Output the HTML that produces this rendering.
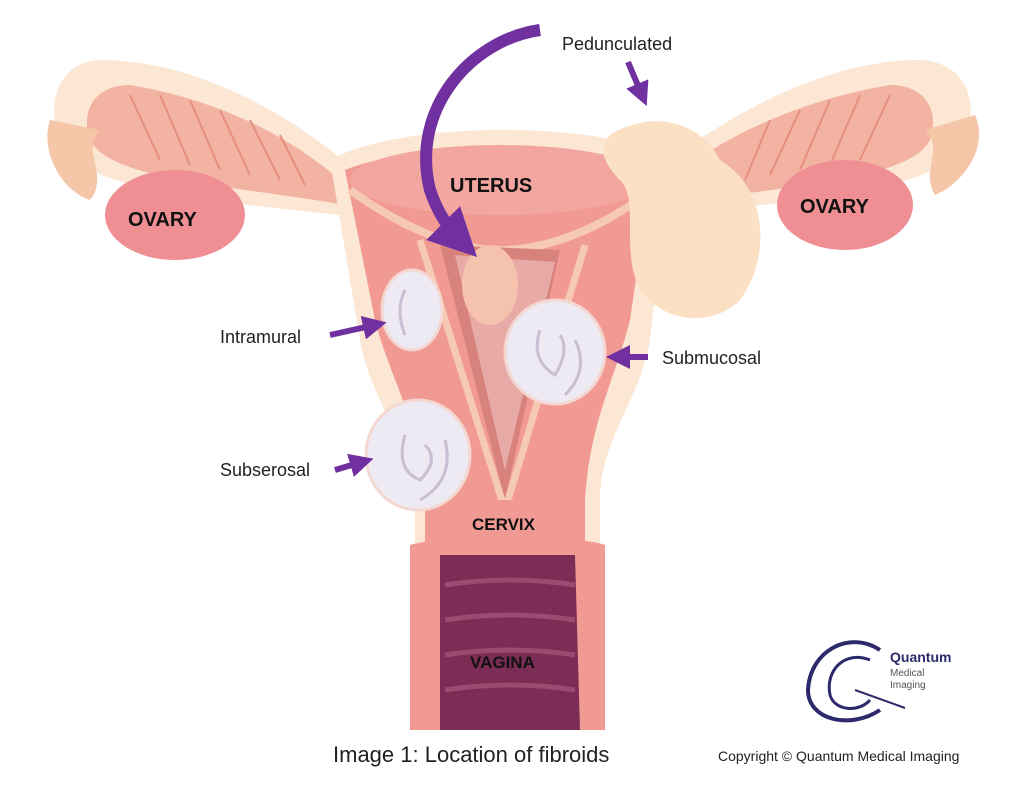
<!DOCTYPE html>
<html><head><style>
html,body{margin:0;padding:0;background:#fff;width:1024px;height:788px;overflow:hidden}
svg text{font-family:"Liberation Sans",sans-serif}
</style></head><body>
<svg width="1024" height="788" viewBox="0 0 1024 788" xmlns="http://www.w3.org/2000/svg">
<defs>
<marker id="ah" markerWidth="4" markerHeight="4" refX="2" refY="2" orient="auto"><path d="M0,0 L4,2 L0,4 z" fill="#7030a0"/></marker>
</defs>
<!-- fallopian tubes outer halo -->
<path d="M360,175 C300,120 200,60 100,60 C60,62 45,100 60,140 C80,190 200,200 340,215 Z" fill="#fbe7d4"/>
<path d="M650,175 C720,120 820,60 920,60 C965,62 980,100 965,140 C945,190 820,200 660,215 Z" fill="#fbe7d4"/>
<!-- tubes inner -->
<path d="M350,190 C300,140 220,100 130,85 C95,85 80,110 90,140 C110,180 230,185 345,205 Z" fill="#f2b3a2"/>
<path d="M660,190 C710,140 800,100 890,85 C925,85 940,110 930,140 C910,180 790,185 665,205 Z" fill="#f2b3a2"/>
<g stroke="#e58f80" stroke-width="2" fill="none">
<path d="M130,95 L160,160 M160,95 L190,165 M190,100 L220,170 M220,110 L250,175 M250,120 L280,180 M280,135 L305,185"/>
<path d="M890,95 L860,160 M860,95 L830,165 M830,100 L800,170 M800,110 L770,175 M770,120 L745,180"/>
</g>
<!-- fimbria -->
<path d="M50,120 C40,150 60,190 90,200 C110,175 80,150 100,130 Z" fill="#f5c6a8"/>
<path d="M975,115 C990,150 960,185 935,195 C920,170 945,150 925,130 Z" fill="#f5c6a8"/>
<!-- ovaries -->
<ellipse cx="175" cy="215" rx="70" ry="45" fill="#ef8f93"/>
<ellipse cx="845" cy="205" rx="68" ry="45" fill="#ef8f93"/>
<!-- uterus outer halo -->
<path d="M330,160 C400,120 610,120 670,160 L650,340 C640,400 600,440 600,500 L600,730 L415,730 L415,500 C410,440 370,400 360,340 Z" fill="#fbe7d4"/>
<!-- uterus body -->
<path d="M345,170 C420,140 600,140 652,170 L630,320 C615,380 590,420 585,500 L585,545 L425,545 L425,500 C420,420 390,380 375,320 Z" fill="#f19a94"/>
<ellipse cx="500" cy="180" rx="150" ry="35" fill="#f3a6a0"/>
<!-- inner lines -->
<path d="M350,190 C420,240 470,250 500,250 C540,250 590,235 645,195" stroke="#f6c9b3" stroke-width="8" fill="none"/>
<path d="M440,245 L505,500 L560,250 Z" fill="#d8827e"/>
<path d="M455,255 L505,470 L555,262 Z" fill="#e8aaa6"/>
<path d="M420,240 L505,510 M585,245 L505,510" stroke="#f6c9b3" stroke-width="7" fill="none"/>
<!-- small pedunculated inner -->
<ellipse cx="490" cy="285" rx="28" ry="40" fill="#f4c2ad"/>
<!-- cervix -->
<rect x="425" y="500" width="160" height="50" fill="#f19a94"/>
<!-- vagina -->
<path d="M410,545 C440,535 580,535 605,545 L605,730 L410,730 Z" fill="#f19a94"/>
<path d="M440,555 L575,555 L580,730 L440,730 Z" fill="#7b2d55"/>
<g stroke="#9d4a72" stroke-width="5" fill="none">
<path d="M445,585 Q510,575 575,585 M445,620 Q510,610 575,620 M445,655 Q510,645 575,655 M445,690 Q510,680 575,690"/>
</g>
<!-- pedunculated fibroid -->
<path d="M610,135 C650,110 700,120 720,160 C770,190 770,260 740,300 C710,330 660,320 640,290 C620,250 640,200 620,180 C600,160 600,145 610,135 Z" fill="#fbe0c4"/>
<!-- fibroids -->
<g fill="#eeeaf4" stroke="#f4d7d0" stroke-width="3">
<ellipse cx="412" cy="310" rx="30" ry="40"/>
<ellipse cx="555" cy="352" rx="50" ry="52"/>
<ellipse cx="418" cy="455" rx="52" ry="55"/>
</g>
<g stroke="#c8bfd3" stroke-width="3" fill="none">
<path d="M540,330 Q530,360 555,375 Q570,350 560,335 M575,340 Q590,370 565,395"/>
<path d="M405,435 Q395,470 420,480 Q440,460 425,445 M445,440 Q455,480 420,500"/>
<path d="M405,290 Q395,310 405,335"/>
</g>
<!-- arrows -->
<path d="M540,30 C470,40 410,110 430,190 C440,220 455,235 460,240" stroke="#7030a0" stroke-width="12" fill="none" marker-end="url(#ah)"/>
<path d="M628,62 L642,95" stroke="#7030a0" stroke-width="6" marker-end="url(#ah)"/>
<path d="M330,335 L375,325" stroke="#7030a0" stroke-width="6" marker-end="url(#ah)"/>
<path d="M648,357 L618,357" stroke="#7030a0" stroke-width="6" marker-end="url(#ah)"/>
<path d="M335,470 L362,462" stroke="#7030a0" stroke-width="6" marker-end="url(#ah)"/>
<!-- labels -->
<g font-weight="bold" font-size="20" fill="#111">
<text x="450" y="192">UTERUS</text>
<text x="128" y="226">OVARY</text>
<text x="800" y="213">OVARY</text>
<text x="472" y="530" font-size="17">CERVIX</text>
<text x="470" y="668" font-size="17">VAGINA</text>
</g>
<g font-size="18" fill="#222">
<text x="562" y="50">Pedunculated</text>
<text x="220" y="343">Intramural</text>
<text x="662" y="364">Submucosal</text>
<text x="220" y="476">Subserosal</text>
<text x="333" y="762" font-size="22">Image 1: Location of fibroids</text>
<text x="718" y="761" font-size="14">Copyright © Quantum Medical Imaging</text>
</g>
<!-- logo -->
<g fill="none" stroke="#2c2a6b" stroke-width="4">
<path d="M880,650 C850,630 810,650 808,690 C808,720 850,730 880,710"/>
<path d="M870,660 C845,650 825,670 830,695 C835,712 860,712 870,700" stroke-width="3"/>
<path d="M855,690 L905,708" stroke-width="2"/>
</g>
<text x="890" y="662" font-size="14" font-weight="bold" fill="#2c2a6b">Quantum</text>
<text x="890" y="676" font-size="10" fill="#555">Medical</text>
<text x="890" y="688" font-size="10" fill="#555">Imaging</text>
</svg>
</body></html>
